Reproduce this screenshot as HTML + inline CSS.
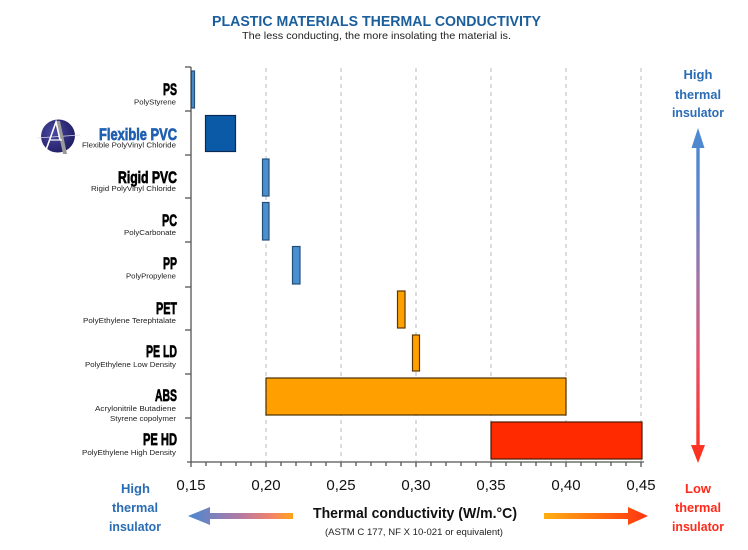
<!DOCTYPE html>
<html>
<head>
<meta charset="utf-8">
<style>
  html,body{margin:0;padding:0;background:#fff;}
  svg{display:block;}
  text{font-family:"Liberation Sans",sans-serif;}
</style>
</head>
<body>
<svg width="748" height="550" viewBox="0 0 748 550" xmlns="http://www.w3.org/2000/svg">
  <defs>
    <linearGradient id="gl" x1="188" y1="0" x2="293" y2="0" gradientUnits="userSpaceOnUse">
      <stop offset="0" stop-color="#4a88d0"/>
      <stop offset="0.5" stop-color="#b47aa4"/>
      <stop offset="0.8" stop-color="#f2846a"/>
      <stop offset="1" stop-color="#ffa318"/>
    </linearGradient>
    <linearGradient id="gr" x1="544" y1="0" x2="648" y2="0" gradientUnits="userSpaceOnUse">
      <stop offset="0" stop-color="#ffae12"/>
      <stop offset="1" stop-color="#ff3410"/>
    </linearGradient>
    <linearGradient id="gv" x1="0" y1="128" x2="0" y2="463" gradientUnits="userSpaceOnUse">
      <stop offset="0" stop-color="#4a8ad2"/>
      <stop offset="0.2" stop-color="#5a86cc"/>
      <stop offset="0.45" stop-color="#a374a6"/>
      <stop offset="0.7" stop-color="#e8506a"/>
      <stop offset="1" stop-color="#ff2e18"/>
    </linearGradient>
    <radialGradient id="lg" cx="0.4" cy="0.35" r="0.7">
      <stop offset="0" stop-color="#4a48a0"/>
      <stop offset="1" stop-color="#1e1c60"/>
    </radialGradient>
  </defs>

  <!-- Title -->
  <text x="212" y="26" font-size="14.5" font-weight="bold" fill="#1b5e9c" textLength="329" lengthAdjust="spacingAndGlyphs">PLASTIC MATERIALS THERMAL CONDUCTIVITY</text>
  <text x="242" y="39" font-size="10.5" fill="#222" textLength="269" lengthAdjust="spacingAndGlyphs">The less conducting, the more insolating the material is.</text>

  <!-- Grid -->
  <g stroke="#c4c4c4" stroke-width="1.2" stroke-dasharray="4,4">
    <line x1="266" y1="68" x2="266" y2="461"/>
    <line x1="341" y1="68" x2="341" y2="461"/>
    <line x1="416" y1="68" x2="416" y2="461"/>
    <line x1="491" y1="68" x2="491" y2="461"/>
    <line x1="566" y1="68" x2="566" y2="461"/>
    <line x1="641" y1="68" x2="641" y2="461"/>
  </g>

  <!-- Axes -->
  <g stroke="#555" stroke-width="1.3">
    <line x1="191" y1="67" x2="191" y2="462"/>
    <line x1="187" y1="462" x2="644" y2="462"/>
    <line x1="185" y1="67" x2="191" y2="67"/>
    <line x1="185" y1="111" x2="191" y2="111"/>
    <line x1="185" y1="155" x2="191" y2="155"/>
    <line x1="185" y1="198" x2="191" y2="198"/>
    <line x1="185" y1="242" x2="191" y2="242"/>
    <line x1="185" y1="287" x2="191" y2="287"/>
    <line x1="185" y1="330" x2="191" y2="330"/>
    <line x1="185" y1="374" x2="191" y2="374"/>
    <line x1="185" y1="418" x2="191" y2="418"/>
    <line x1="191" y1="462" x2="191" y2="467"/>
    <line x1="206" y1="462" x2="206" y2="466"/>
    <line x1="221" y1="462" x2="221" y2="466"/>
    <line x1="236" y1="462" x2="236" y2="466"/>
    <line x1="251" y1="462" x2="251" y2="466"/>
    <line x1="266" y1="462" x2="266" y2="467"/>
    <line x1="281" y1="462" x2="281" y2="466"/>
    <line x1="296" y1="462" x2="296" y2="466"/>
    <line x1="311" y1="462" x2="311" y2="466"/>
    <line x1="326" y1="462" x2="326" y2="466"/>
    <line x1="341" y1="462" x2="341" y2="467"/>
    <line x1="356" y1="462" x2="356" y2="466"/>
    <line x1="371" y1="462" x2="371" y2="466"/>
    <line x1="386" y1="462" x2="386" y2="466"/>
    <line x1="401" y1="462" x2="401" y2="466"/>
    <line x1="416" y1="462" x2="416" y2="467"/>
    <line x1="431" y1="462" x2="431" y2="466"/>
    <line x1="446" y1="462" x2="446" y2="466"/>
    <line x1="461" y1="462" x2="461" y2="466"/>
    <line x1="476" y1="462" x2="476" y2="466"/>
    <line x1="491" y1="462" x2="491" y2="467"/>
    <line x1="506" y1="462" x2="506" y2="466"/>
    <line x1="521" y1="462" x2="521" y2="466"/>
    <line x1="536" y1="462" x2="536" y2="466"/>
    <line x1="551" y1="462" x2="551" y2="466"/>
    <line x1="566" y1="462" x2="566" y2="467"/>
    <line x1="581" y1="462" x2="581" y2="466"/>
    <line x1="596" y1="462" x2="596" y2="466"/>
    <line x1="611" y1="462" x2="611" y2="466"/>
    <line x1="626" y1="462" x2="626" y2="466"/>
    <line x1="641" y1="462" x2="641" y2="467"/>
  </g>

  <!-- Bars -->
  <g stroke-width="1.2">
    <rect x="191.5" y="71" width="3" height="37" fill="#4a8fd0" stroke="#24507a"/>
    <rect x="205.5" y="115.5" width="30" height="36" fill="#0a5aa8" stroke="#0a2a55"/>
    <rect x="262.5" y="159" width="6.5" height="37" fill="#4a8fd0" stroke="#24507a"/>
    <rect x="262.5" y="202.5" width="6.5" height="37.5" fill="#4a8fd0" stroke="#24507a"/>
    <rect x="292.5" y="246.5" width="7.5" height="37.5" fill="#4a8fd0" stroke="#24507a"/>
    <rect x="397.5" y="291" width="7.5" height="37" fill="#ffa000" stroke="#5a3800"/>
    <rect x="412.5" y="335" width="7" height="36" fill="#ffa000" stroke="#5a3800"/>
    <rect x="266" y="378" width="300" height="37" fill="#ffa000" stroke="#4a3000"/>
    <rect x="491" y="422" width="151" height="37" fill="#ff2a00" stroke="#4a1a00"/>
  </g>

  <!-- Logo -->
  <g>
    <ellipse cx="58" cy="136" rx="17" ry="16.5" fill="url(#lg)" transform="rotate(-20 58 136)"/>
    <line x1="37" y1="138" x2="80" y2="135" stroke="#d8d8e8" stroke-width="0.8"/>
    <polygon points="56,121 60,121 67,154 63,154" fill="#9a9a9a"/>
    <polyline points="46,150 56,122 60,140" fill="none" stroke="#fff" stroke-width="1.6"/>
    <line x1="50" y1="140" x2="62" y2="140" stroke="#fff" stroke-width="1.2"/>
  </g>

  <!-- Left labels -->
  <g font-weight="bold" font-size="16.5" fill="#000" stroke="#000" stroke-width="0.7">
    <text x="163" y="95" textLength="14" lengthAdjust="spacingAndGlyphs">PS</text>
    <text x="99" y="140" textLength="78" lengthAdjust="spacingAndGlyphs" fill="#1f5fb0" stroke="#1f5fb0">Flexible PVC</text>
    <text x="118" y="183" textLength="59" lengthAdjust="spacingAndGlyphs">Rigid PVC</text>
    <text x="162" y="226" textLength="15" lengthAdjust="spacingAndGlyphs">PC</text>
    <text x="163" y="269" textLength="14" lengthAdjust="spacingAndGlyphs">PP</text>
    <text x="156" y="314" textLength="21" lengthAdjust="spacingAndGlyphs">PET</text>
    <text x="146" y="357" textLength="31" lengthAdjust="spacingAndGlyphs">PE LD</text>
    <text x="155" y="401" textLength="22" lengthAdjust="spacingAndGlyphs">ABS</text>
    <text x="143" y="445" textLength="34" lengthAdjust="spacingAndGlyphs">PE HD</text>
  </g>
  <g font-size="7.5" fill="#222">
    <text x="134" y="104.5" textLength="42" lengthAdjust="spacingAndGlyphs">PolyStyrene</text>
    <text x="82" y="147.5" textLength="94" lengthAdjust="spacingAndGlyphs">Flexible PolyVinyl Chloride</text>
    <text x="91" y="191" textLength="85" lengthAdjust="spacingAndGlyphs">Rigid PolyVinyl Chloride</text>
    <text x="124" y="235" textLength="52" lengthAdjust="spacingAndGlyphs">PolyCarbonate</text>
    <text x="126" y="278.5" textLength="50" lengthAdjust="spacingAndGlyphs">PolyPropylene</text>
    <text x="83" y="323" textLength="93" lengthAdjust="spacingAndGlyphs">PolyEthylene Terephtalate</text>
    <text x="85" y="367" textLength="91" lengthAdjust="spacingAndGlyphs">PolyEthylene Low Density</text>
    <text x="95" y="411" textLength="81" lengthAdjust="spacingAndGlyphs">Acrylonitrile Butadiene</text>
    <text x="110" y="421" textLength="66" lengthAdjust="spacingAndGlyphs">Styrene copolymer</text>
    <text x="82" y="455" textLength="94" lengthAdjust="spacingAndGlyphs">PolyEthylene High Density</text>
  </g>

  <!-- Tick labels -->
  <g font-size="15" fill="#111" text-anchor="middle">
    <text x="191" y="490">0,15</text>
    <text x="266" y="490">0,20</text>
    <text x="341" y="490">0,25</text>
    <text x="416" y="490">0,30</text>
    <text x="491" y="490">0,35</text>
    <text x="566" y="490">0,40</text>
    <text x="641" y="490">0,45</text>
  </g>

  <!-- Axis title -->
  <text x="313" y="518" font-size="15" font-weight="bold" fill="#111" textLength="204" lengthAdjust="spacingAndGlyphs">Thermal conductivity (W/m.°C)</text>
  <text x="325" y="535" font-size="9" fill="#222" textLength="178" lengthAdjust="spacingAndGlyphs">(ASTM C 177, NF X 10-021 or equivalent)</text>

  <!-- Horizontal arrows -->
  <polygon points="188,516 210,507 210,513 293,513 293,519 210,519 210,525" fill="url(#gl)"/>
  <polygon points="544,513 628,513 628,507 648,516 628,525 628,519 544,519" fill="url(#gr)"/>

  <!-- Vertical arrow -->
  <polygon points="698,128 704.5,148 699.7,148 699.7,445 705,445 698,463 691,445 696.3,445 696.3,148 691.5,148" fill="url(#gv)"/>

  <!-- Side labels -->
  <g font-size="13" font-weight="bold" text-anchor="middle" fill="#2a6cb5">
    <text x="135.5" y="493" textLength="29" lengthAdjust="spacingAndGlyphs">High</text>
    <text x="135" y="512" textLength="46" lengthAdjust="spacingAndGlyphs">thermal</text>
    <text x="135" y="531" textLength="52" lengthAdjust="spacingAndGlyphs">insulator</text>
    <text x="698" y="79" textLength="29" lengthAdjust="spacingAndGlyphs">High</text>
    <text x="698" y="99" textLength="46" lengthAdjust="spacingAndGlyphs">thermal</text>
    <text x="698" y="117" textLength="52" lengthAdjust="spacingAndGlyphs">insulator</text>
  </g>
  <g font-size="13" font-weight="bold" text-anchor="middle" fill="#ff2a1a">
    <text x="698" y="493" textLength="26" lengthAdjust="spacingAndGlyphs">Low</text>
    <text x="698" y="512" textLength="46" lengthAdjust="spacingAndGlyphs">thermal</text>
    <text x="698" y="531" textLength="52" lengthAdjust="spacingAndGlyphs">insulator</text>
  </g>
</svg>
</body>
</html>
